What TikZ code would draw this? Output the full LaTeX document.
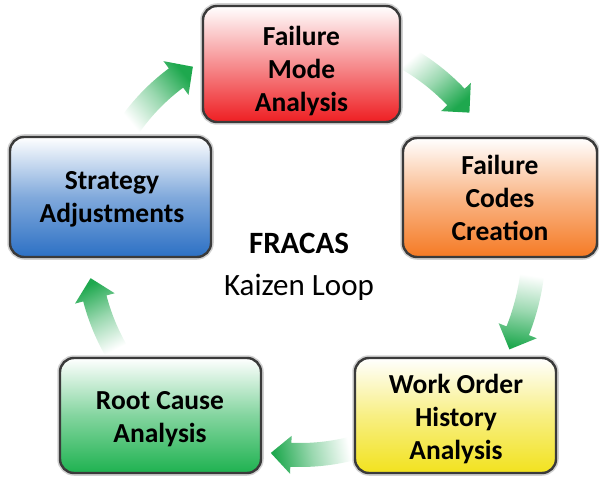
\documentclass[tikz,border=0pt]{standalone}
\usepackage{fontspec}
\setmainfont{Carlito}
\usetikzlibrary{calc}
\definecolor{agreen}{RGB}{30,168,78}
\definecolor{bred}{RGB}{238,30,34}
\definecolor{borange}{RGB}{245,122,36}
\definecolor{byellow}{RGB}{242,226,30}
\definecolor{bgreen}{RGB}{30,178,80}
\definecolor{bblue}{RGB}{44,112,196}
\definecolor{bordergray}{RGB}{58,58,58}
\newcommand{\cycarrow}[8]{%
  \pgfmathsetmacro\ro{#2+#6}%
  \pgfmathsetmacro\ri{#2-#6}%
  \pgfmathsetmacro\ho{#2+#7}%
  \pgfmathsetmacro\hi{#2-#7}%
  \shade[top color=agreen, bottom color=white, middle color=agreen!45, shading angle=#8]
    ($(#1)+(#3:\ro)$) arc[start angle=#3, end angle=#4, radius=\ro]
    -- ($(#1)+(#4:\ho)$) -- ($(#1)+(#5:#2)$) -- ($(#1)+(#4:\hi)$)
    -- ($(#1)+(#4:\ri)$) arc[start angle=#4, end angle=#3, radius=\ri] -- cycle;}
\tikzset{
  box/.style={rectangle, rounded corners=14pt, draw=bordergray, line width=2.4pt,
    preaction={draw=black!18, line width=5.5pt}},
  boxtext/.style={align=center, font=\fontsize{27.5}{33}\selectfont\bfseries, inner sep=0pt},
}
\begin{document}
\begin{tikzpicture}[x=1pt,y=-1pt]
\useasboundingbox (0,0) rectangle (599,478);
% arrows
\cycarrow{300,245}{208}{215}{233.4}{239}{12}{21}{-50}
\cycarrow{300,245}{215}{300}{316.5}{322}{12}{20.5}{-140}
\cycarrow{300,245}{234}{7}{21.5}{26.5}{12}{20.5}{171}
\cycarrow{300,245}{210}{76}{92.5}{98}{12}{19}{101}
\cycarrow{300,245}{212}{150}{165.4}{171}{12}{20.5}{27}
% boxes
\node[box, top color=white, bottom color=bred, middle color=bred!50,
  minimum width=197pt, minimum height=116pt] (fma) at (301.5,64) {};
\node[boxtext] (fmat) at (301.5,71) {Failure\\Mode\\Analysis};
\node[box, top color=white, bottom color=borange, middle color=borange!55,
  minimum width=194pt, minimum height=119pt] (fcc) at (500,197.5) {};
\node[boxtext] (fcct) at (500,198) {Failure\\Codes\\Creation};
\node[box, top color=white, bottom color=byellow, middle color=byellow!55,
  minimum width=201pt, minimum height=115pt] (woh) at (455.5,415.5) {};
\node[boxtext] (woht) at (456,419.5) {Work Order\\History\\Analysis};
\node[box, top color=white, bottom color=bgreen, middle color=bgreen!55,
  minimum width=201pt, minimum height=115pt] (rca) at (160.5,415.5) {};
\node[boxtext] (rcat) at (160,419) {Root Cause\\Analysis};
\node[box, top color=white, bottom color=bblue, middle color=bblue!60,
  minimum width=201pt, minimum height=120pt] (sa) at (110.5,197) {};
\node[boxtext] (sat) at (112,199) {Strategy\\Adjustments};
% centre
\node[align=center, inner sep=0pt, font=\fontsize{31}{42}\selectfont] (ctr) at (299,267)
  {\textbf{FRACAS}\\Kaizen Loop};
\end{tikzpicture}
\end{document}
